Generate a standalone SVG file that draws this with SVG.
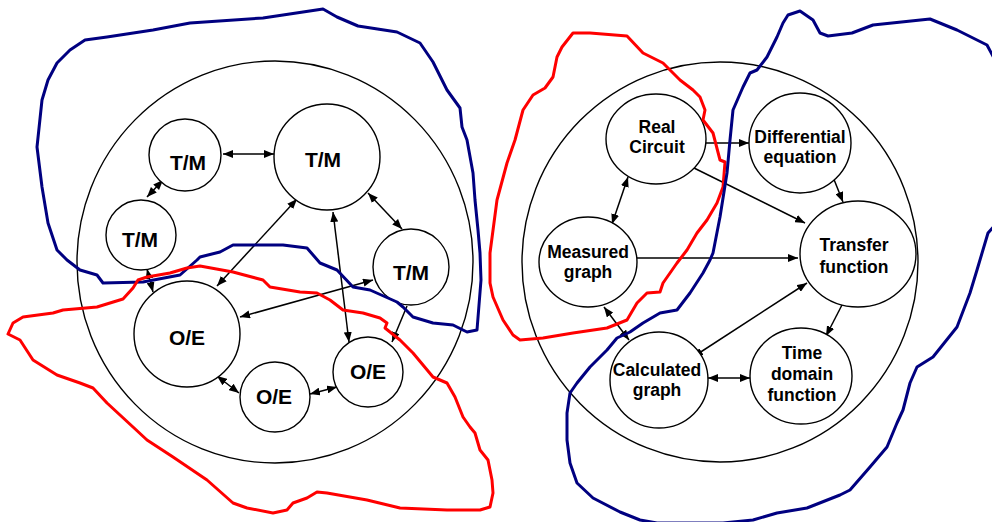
<svg xmlns="http://www.w3.org/2000/svg" width="992" height="522" viewBox="0 0 992 522">
<style>
.bg{fill:#fff}
.node{fill:#fff;stroke:#000;stroke-width:1.4}
.big{fill:none;stroke:#000;stroke-width:1.4}
.lbl{font-family:"Liberation Sans",Arial,sans-serif;font-weight:bold;fill:#000;text-anchor:middle}
.l20{font-size:21px}
.l17{font-size:17.5px}
.c{stroke:#000;stroke-width:1.5;fill:none}
.c1{marker-end:url(#ah)}
.c2{marker-end:url(#ah);marker-start:url(#ah)}
.blue{fill:none;stroke:#000080;stroke-width:3;stroke-linejoin:round;stroke-linecap:round}
.red{fill:none;stroke:#ff0000;stroke-width:3;stroke-linejoin:round;stroke-linecap:round}
</style>
<defs>
<marker id="ah" viewBox="0 0 10 8" refX="10" refY="4" markerWidth="10" markerHeight="8" markerUnits="userSpaceOnUse" orient="auto-start-reverse">
<path d="M0,0 L10,4 L0,8 Z" fill="#000"/>
</marker>
</defs>
<rect class="bg" x="0" y="0" width="992" height="522"/>
<g id="frame-left"><ellipse class="big" cx="275" cy="262" rx="198" ry="201"/></g>
<g id="frame-right"><ellipse class="big" cx="720" cy="262" rx="198" ry="200"/></g>
<g id="connectors">
<line class="c c2" x1="223" y1="154" x2="274" y2="154"/>
<line class="c c2" x1="163" y1="180" x2="147" y2="197"/>
<line class="c c2" x1="368" y1="193" x2="402" y2="229"/>
<line class="c c2" x1="217" y1="286" x2="297" y2="199"/>
<line class="c c2" x1="333" y1="212" x2="349" y2="342"/>
<line class="c c2" x1="147" y1="269" x2="153" y2="292"/>
<line class="c c2" x1="373" y1="280" x2="240" y2="317"/>
<line class="c c1" x1="407" y1="306" x2="392" y2="342"/>
<line class="c c2" x1="217" y1="376" x2="239" y2="393"/>
<line class="c c2" x1="310" y1="394" x2="337" y2="387"/>
<line class="c c1" x1="701" y1="143" x2="749" y2="143"/>
<line class="c c1" x1="694" y1="168" x2="805" y2="223"/>
<line class="c c1" x1="833" y1="177" x2="843" y2="202"/>
<line class="c c2" x1="628" y1="177" x2="612" y2="224"/>
<line class="c c1" x1="636" y1="258" x2="798" y2="258"/>
<line class="c c2" x1="604" y1="307" x2="629" y2="340"/>
<line class="c c2" x1="807" y1="283" x2="693" y2="357"/>
<line class="c c1" x1="843" y1="303" x2="826" y2="336"/>
<line class="c c2" x1="708" y1="378" x2="750" y2="378"/>
</g>
<g id="tm1"><circle class="node" cx="185" cy="155" r="36"/><text class="lbl l20" x="188" y="170">T/M</text></g>
<g id="tm2"><circle class="node" cx="327" cy="157" r="53"/><text class="lbl l20" x="323" y="167">T/M</text></g>
<g id="tm3"><circle class="node" cx="141" cy="235" r="35"/><text class="lbl l20" x="140" y="247">T/M</text></g>
<g id="tm4"><circle class="node" cx="411" cy="267" r="38"/><text class="lbl l20" x="411" y="280">T/M</text></g>
<g id="oe1"><circle class="node" cx="187" cy="334" r="53"/><text class="lbl l20" x="187" y="345">O/E</text></g>
<g id="oe2"><circle class="node" cx="275" cy="397" r="35"/><text class="lbl l20" x="274" y="404">O/E</text></g>
<g id="oe3"><circle class="node" cx="368" cy="372" r="35"/><text class="lbl l20" x="368" y="379">O/E</text></g>
<g id="real"><ellipse class="node" cx="656" cy="139" rx="50" ry="45"/><text class="lbl l17" x="657" y="133">Real</text><text class="lbl l17" x="657" y="153">Circuit</text></g>
<g id="diff"><ellipse class="node" cx="800" cy="143" rx="51" ry="50"/><text class="lbl l17" x="800" y="143">Differential</text><text class="lbl l17" x="800" y="163">equation</text></g>
<g id="transfer"><ellipse class="node" cx="858" cy="254" rx="58" ry="53"/><text class="lbl l17" x="854" y="251">Transfer</text><text class="lbl l17" x="854" y="273">function</text></g>
<g id="measured"><ellipse class="node" cx="588" cy="262" rx="49" ry="45"/><text class="lbl l17" x="588" y="258">Measured</text><text class="lbl l17" x="588" y="278">graph</text></g>
<g id="calculated"><ellipse class="node" cx="659" cy="380" rx="49" ry="48"/><text class="lbl l17" x="657" y="376">Calculated</text><text class="lbl l17" x="657" y="396">graph</text></g>
<g id="time"><ellipse class="node" cx="801" cy="376" rx="51" ry="48"/><text class="lbl l17" x="802" y="359">Time</text><text class="lbl l17" x="802" y="380">domain</text><text class="lbl l17" x="802" y="401">function</text></g>
<g id="outlines">
<path class="blue" d="M57,63 L70,50 L85,40 L107,37 L153,30 L190,23 L263,18 L323,9 L337,17 L358,26 L397,32 L420,43 L433,62 L442,80 L447,90 L460,108 L462,127 L467,140 L473,173 L475,200 L478,230 L480,253 L481,280 L477,330 L467,332 L453,325 L433,323 L413,317 L403,307 L397,302 L370,290 L353,287 L337,270 L320,263 L307,248 L283,245 L233,245 L220,252 L200,257 L197,260 L180,275 L143,282 L103,283 L97,275 L80,270 L67,260 L57,250 L48,223 L42,187 L37,147 L42,100 L48,80 Z"/>
<path class="red" d="M8,334 L13,323 L23,317 L53,313 L63,310 L97,307 L123,299 L133,288 L138,280 L147,277 L170,273 L187,268 L200,266 L233,272 L263,280 L270,287 L300,292 L317,293 L330,300 L343,310 L363,313 L380,318 L387,323 L385,328 L400,340 L413,353 L433,377 L447,383 L455,397 L463,417 L470,427 L475,433 L480,450 L488,460 L492,480 L493,493 L490,507 L480,510 L447,510 L400,508 L367,500 L327,493 L317,492 L307,498 L293,503 L287,510 L273,513 L247,508 L233,503 L207,480 L173,457 L147,440 L133,427 L107,403 L93,388 L80,383 L57,375 L33,360 L20,340 Z"/>
<path class="red" d="M573,33 L590,33 L627,36 L643,53 L663,63 L680,80 L693,90 L700,97 L705,110 L703,120 L713,133 L720,160 L725,162 L723,187 L717,203 L707,220 L697,233 L687,250 L677,263 L670,273 L663,283 L660,292 L647,293 L637,303 L627,320 L607,328 L573,333 L543,338 L520,340 L513,335 L503,320 L493,297 L490,283 L490,253 L497,200 L507,163 L515,140 L523,110 L533,95 L545,88 L553,77 L557,57 L562,47 Z"/>
<path class="blue" d="M788,15 L800,11 L813,20 L820,33 L828,36 L852,33 L873,25 L930,19 L957,30 L987,45 L995,60 L995,225 L988,233 L977,270 L970,293 L957,327 L933,357 L917,367 L910,383 L903,410 L897,423 L887,447 L870,467 L850,490 L840,495 L807,508 L777,513 L753,520 L723,523 L657,523 L640,520 L620,512 L593,498 L577,483 L570,463 L567,440 L567,413 L570,393 L577,383 L590,367 L607,350 L617,338 L630,332 L643,323 L660,313 L677,310 L690,293 L703,273 L710,260 L713,253 L720,217 L727,173 L730,140 L733,110 L743,87 L750,73 L757,70 L767,57 L777,37 L783,23 Z"/>
</g>
</svg>
